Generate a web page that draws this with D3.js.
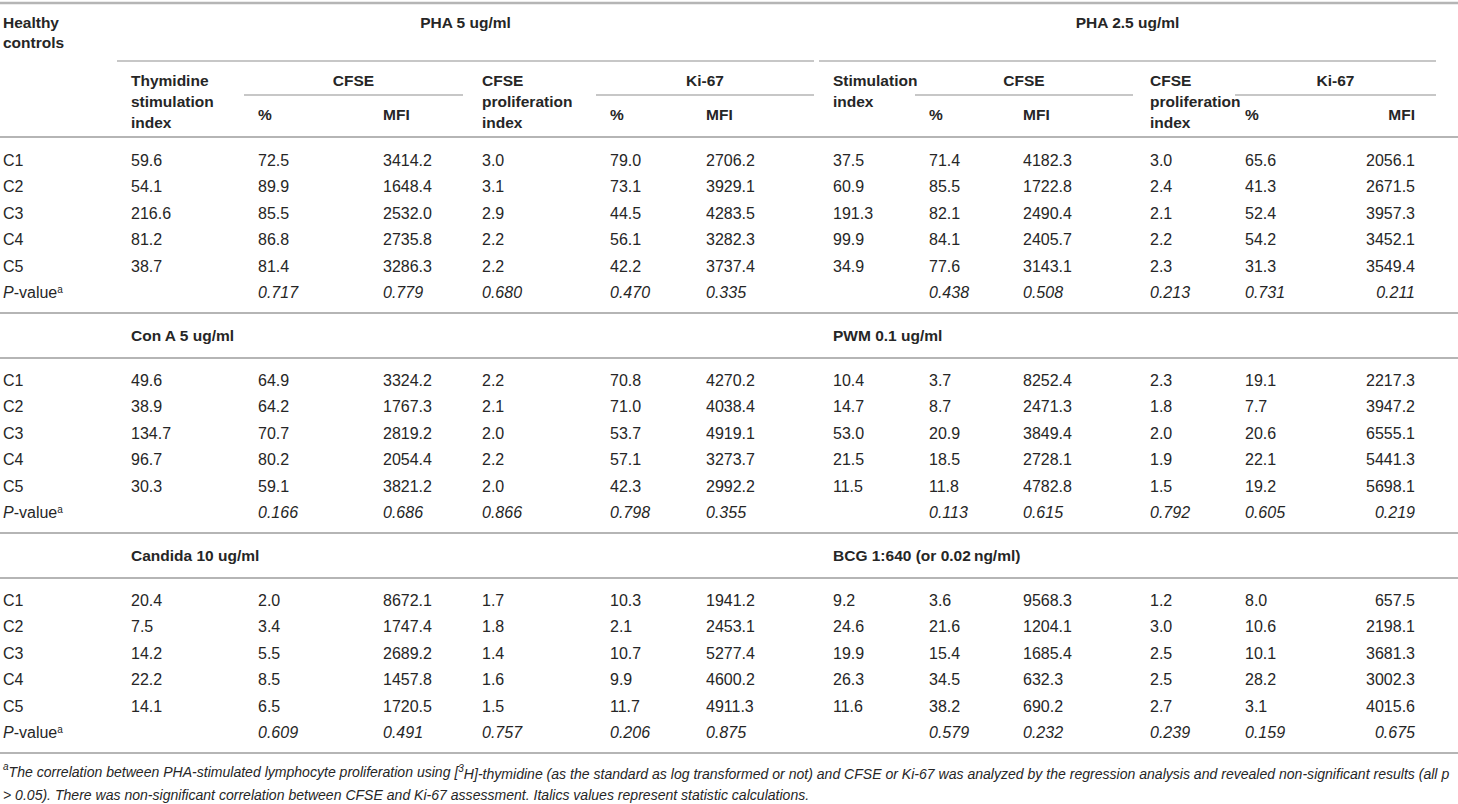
<!DOCTYPE html>
<html>
<head>
<meta charset="utf-8">
<script src="https://cdn.jsdelivr.net/npm/d3@7"></script>
<style>
  body { margin: 0; background: #fff; }
  text { font-family: "Liberation Sans", Arial, sans-serif; fill: #262626; }
</style>
</head>
<body>
<script>
(() => {
    // ---- data ----
    let donors = ["C1", "C2", "C3", "C4", "C5"];
    let groupTitles = ["PHA 5 ug/ml", "PHA 2.5 ug/ml"];
    let sectionTitles = [
        ["PHA 5 ug/ml", "PHA 2.5 ug/ml"],
        ["Con A 5 ug/ml", "PWM 0.1 ug/ml"],
        ["Candida 10 ug/ml", "BCG 1:640 (or 0.02\u2009ng/ml)"]
    ];

    // columns per half: stimulation index, CFSE %, CFSE MFI, CFSE prolif index, Ki-67 %, Ki-67 MFI
    let pha5 = [
        [59.6, 54.1, 216.6, 81.2, 38.7],
        [72.5, 89.9, 85.5, 86.8, 81.4],
        [3414.2, 1648.4, 2532.0, 2735.8, 3286.3],
        [3.0, 3.1, 2.9, 2.2, 2.2],
        [79.0, 73.1, 44.5, 56.1, 42.2],
        [2706.2, 3929.1, 4283.5, 3282.3, 3737.4]
    ];
    let pha5P = [0.717, 0.779, 0.680, 0.470, 0.335];

    let pha25 = [
        [37.5, 60.9, 191.3, 99.9, 34.9],
        [71.4, 85.5, 82.1, 84.1, 77.6],
        [4182.3, 1722.8, 2490.4, 2405.7, 3143.1],
        [3.0, 2.4, 2.1, 2.2, 2.3],
        [65.6, 41.3, 52.4, 54.2, 31.3],
        [2056.1, 2671.5, 3957.3, 3452.1, 3549.4]
    ];
    let pha25P = [0.438, 0.508, 0.213, 0.731, 0.211];

    let conA = [
        [49.6, 38.9, 134.7, 96.7, 30.3],
        [64.9, 64.2, 70.7, 80.2, 59.1],
        [3324.2, 1767.3, 2819.2, 2054.4, 3821.2],
        [2.2, 2.1, 2.0, 2.2, 2.0],
        [70.8, 71.0, 53.7, 57.1, 42.3],
        [4270.2, 4038.4, 4919.1, 3273.7, 2992.2]
    ];
    let conAP = [0.166, 0.686, 0.866, 0.798, 0.355];

    let pwm = [
        [10.4, 14.7, 53.0, 21.5, 11.5],
        [3.7, 8.7, 20.9, 18.5, 11.8],
        [8252.4, 2471.3, 3849.4, 2728.1, 4782.8],
        [2.3, 1.8, 2.0, 1.9, 1.5],
        [19.1, 7.7, 20.6, 22.1, 19.2],
        [2217.3, 3947.2, 6555.1, 5441.3, 5698.1]
    ];
    let pwmP = [0.113, 0.615, 0.792, 0.605, 0.219];

    let candida = [
        [20.4, 7.5, 14.2, 22.2, 14.1],
        [2.0, 3.4, 5.5, 8.5, 6.5],
        [8672.1, 1747.4, 2689.2, 1457.8, 1720.5],
        [1.7, 1.8, 1.4, 1.6, 1.5],
        [10.3, 2.1, 10.7, 9.9, 11.7],
        [1941.2, 2453.1, 5277.4, 4600.2, 4911.3]
    ];
    let candidaP = [0.609, 0.491, 0.757, 0.206, 0.875];

    let bcg = [
        [9.2, 24.6, 19.9, 26.3, 11.6],
        [3.6, 21.6, 15.4, 34.5, 38.2],
        [9568.3, 1204.1, 1685.4, 632.3, 690.2],
        [1.2, 3.0, 2.5, 2.5, 2.7],
        [8.0, 10.6, 10.1, 28.2, 3.1],
        [657.5, 2198.1, 3681.3, 3002.3, 4015.6]
    ];
    let bcgP = [0.579, 0.232, 0.239, 0.159, 0.675];

    let blocks = [
        [{ vals: pha5, p: pha5P }, { vals: pha25, p: pha25P }],
        [{ vals: conA, p: conAP }, { vals: pwm, p: pwmP }],
        [{ vals: candida, p: candidaP }, { vals: bcg, p: bcgP }]
    ];

    let leftHeads = [["Thymidine", "stimulation", "index"], null, null, ["CFSE", "proliferation", "index"], null, null];
    let rightHeads = [["Stimulation", "index"], null, null, ["CFSE", "proliferation", "index"], null, null];
    let spanHeads = ["CFSE", "Ki-67"];
    let leafHeads = ["%", "MFI", "%", "MFI"];

    let footnote = [
        "The correlation between PHA-stimulated lymphocyte proliferation using [",
        "H]-thymidine (as the standard as log transformed or not) and CFSE or Ki-67 was analyzed by the regression analysis and revealed non-significant results (all p",
        "> 0.05). There was non-significant correlation between CFSE and Ki-67 assessment. Italics values represent statistic calculations."
    ];

    // ---- layout ----
    let w = 1458;
    let h = 804;
    let lineColor = "#b5b5b5";

    let svg = d3.select("body")
        .append("svg")
        .attr("width", w)
        .attr("height", h);

    let colKeys = ["L0", "L1", "L2", "L3", "L4", "L5", "R0", "R1", "R2", "R3", "R4", "R5"];
    let colX = d3.scaleOrdinal()
        .domain(colKeys)
        .range([131, 258, 383, 482, 610, 706, 833, 929, 1023, 1150, 1245, 1415]);
    let anchorOf = (k) => k === "R5" ? "end" : "start";

    let yBlock = d3.scaleLinear().domain([0, 2]).range([160, 600]);
    let yRow = d3.scaleLinear().domain([0, 5]).range([0, 132.5]);

    let hline = (x1, x2, y, sw) => {
        svg.append("line")
            .attr("x1", x1).attr("x2", x2)
            .attr("y1", y).attr("y2", y)
            .attr("stroke", lineColor)
            .attr("stroke-width", sw);
    };

    // header
    hline(0, w, 3, 2.5);
    hline(117, 814, 61, 1.5);
    hline(819, 1436, 61, 1.5);
    hline(244, 463, 95, 1.5);
    hline(596, 814, 95, 1.5);
    hline(915, 1133, 95, 1.5);
    hline(1235, 1436, 95, 1.5);
    hline(0, w, 137, 2);

    let head = svg.append("g")
        .attr("font-weight", "bold")
        .attr("font-size", "15.5px");

    head.selectAll("text.hc")
        .data(["Healthy", "controls"])
        .enter()
        .append("text")
        .attr("x", 3)
        .attr("y", (d, i) => 23 + i * 20)
        .attr("dy", "0.35em")
        .text(d => d);

    head.selectAll("text.grp")
        .data(groupTitles)
        .enter()
        .append("text")
        .attr("x", (d, i) => i === 0 ? (117 + 814) / 2 : (819 + 1436) / 2)
        .attr("y", 23)
        .attr("dy", "0.35em")
        .attr("text-anchor", "middle")
        .text(d => d);

    let multiHead = (heads, side) => {
        heads.forEach((lines, i) => {
            if (!lines) return;
            head.selectAll(null)
                .data(lines)
                .enter()
                .append("text")
                .attr("x", colX(side + i))
                .attr("y", (d, j) => 81 + j * 21)
                .attr("dy", "0.35em")
                .text(d => d);
        });
    };
    multiHead(leftHeads, "L");
    multiHead(rightHeads, "R");

    let spans = [[244, 463], [596, 814], [915, 1133], [1235, 1436]];
    head.selectAll("text.span")
        .data(spans)
        .enter()
        .append("text")
        .attr("x", d => (d[0] + d[1]) / 2)
        .attr("y", 81)
        .attr("dy", "0.35em")
        .attr("text-anchor", "middle")
        .text((d, i) => spanHeads[i % 2]);

    let leafCols = ["L1", "L2", "L4", "L5", "R1", "R2", "R4", "R5"];
    head.selectAll("text.leaf")
        .data(leafCols)
        .enter()
        .append("text")
        .attr("x", d => colX(d))
        .attr("y", 115)
        .attr("dy", "0.35em")
        .attr("text-anchor", d => anchorOf(d))
        .text((d, i) => leafHeads[i % 4]);

    // body blocks
    let body = svg.append("g").attr("font-size", "16px");

    blocks.forEach((pair, b) => {
        let top = yBlock(b);

        if (b > 0) {
            // section title row between lines
            hline(0, w, top - 22, 2);
            ["L0", "R0"].forEach((k, s) => {
                body.append("text")
                    .attr("x", colX(k))
                    .attr("y", top - 44)
                    .attr("dy", "0.35em")
                    .attr("font-weight", "bold")
                    .attr("font-size", "15.5px")
                    .text(sectionTitles[b][s]);
            });
        }

        let g = body.append("g");

        g.selectAll("text.donor")
            .data(donors)
            .enter()
            .append("text")
            .attr("x", 3)
            .attr("y", (d, i) => top + yRow(i))
            .attr("dy", "0.35em")
            .text(d => d);

        let pLabel = g.append("text")
            .attr("x", 3)
            .attr("y", top + yRow(5))
            .attr("dy", "0.35em");
        pLabel.append("tspan").attr("font-style", "italic").text("P");
        pLabel.append("tspan").text("-value");
        pLabel.append("tspan")
            .attr("font-size", "10px")
            .attr("dy", "-0.55em")
            .text("a");

        pair.forEach((blk, s) => {
            let side = s === 0 ? "L" : "R";
            let cells = [];
            blk.vals.forEach((col, c) => {
                col.forEach((v, r) => cells.push({ key: side + c, r: r, v: v }));
            });

            g.selectAll(null)
                .data(cells)
                .enter()
                .append("text")
                .attr("x", d => colX(d.key))
                .attr("y", d => top + yRow(d.r))
                .attr("dy", "0.35em")
                .attr("text-anchor", d => anchorOf(d.key))
                .text(d => d.v.toFixed(1));

            g.selectAll(null)
                .data(blk.p)
                .enter()
                .append("text")
                .attr("x", (d, i) => colX(side + (i + 1)))
                .attr("y", top + yRow(5))
                .attr("dy", "0.35em")
                .attr("font-style", "italic")
                .attr("text-anchor", (d, i) => anchorOf(side + (i + 1)))
                .text(d => d.toFixed(3));
        });

        hline(0, w, top + yRow(5) + 20.5, 2);
    });

    // footnote
    let fn = svg.append("g")
        .attr("font-style", "italic")
        .attr("font-size", "15px");

    let f1 = fn.append("text")
        .attr("x", 3)
        .attr("y", 775)
        .attr("dy", "0.35em");
    f1.append("tspan").attr("font-size", "10px").attr("dy", "-0.55em").text("a");
    f1.append("tspan").attr("dy", "0.55em").text(footnote[0]);
    f1.append("tspan").attr("font-size", "10px").attr("dy", "-0.55em").text("3");
    f1.append("tspan").attr("dy", "0.55em").text(footnote[1]);

    let f2 = fn.append("text")
        .attr("x", 3)
        .attr("y", 795)
        .attr("dy", "0.35em")
        .text(footnote[2]);

    // shrink footnote font so the first line fits the page width
    let len = f1.node().getComputedTextLength();
    let fs = 15 * Math.min(1, 1447 / len);
    fn.attr("font-size", fs + "px");
})();
</script>
</body>
</html>
